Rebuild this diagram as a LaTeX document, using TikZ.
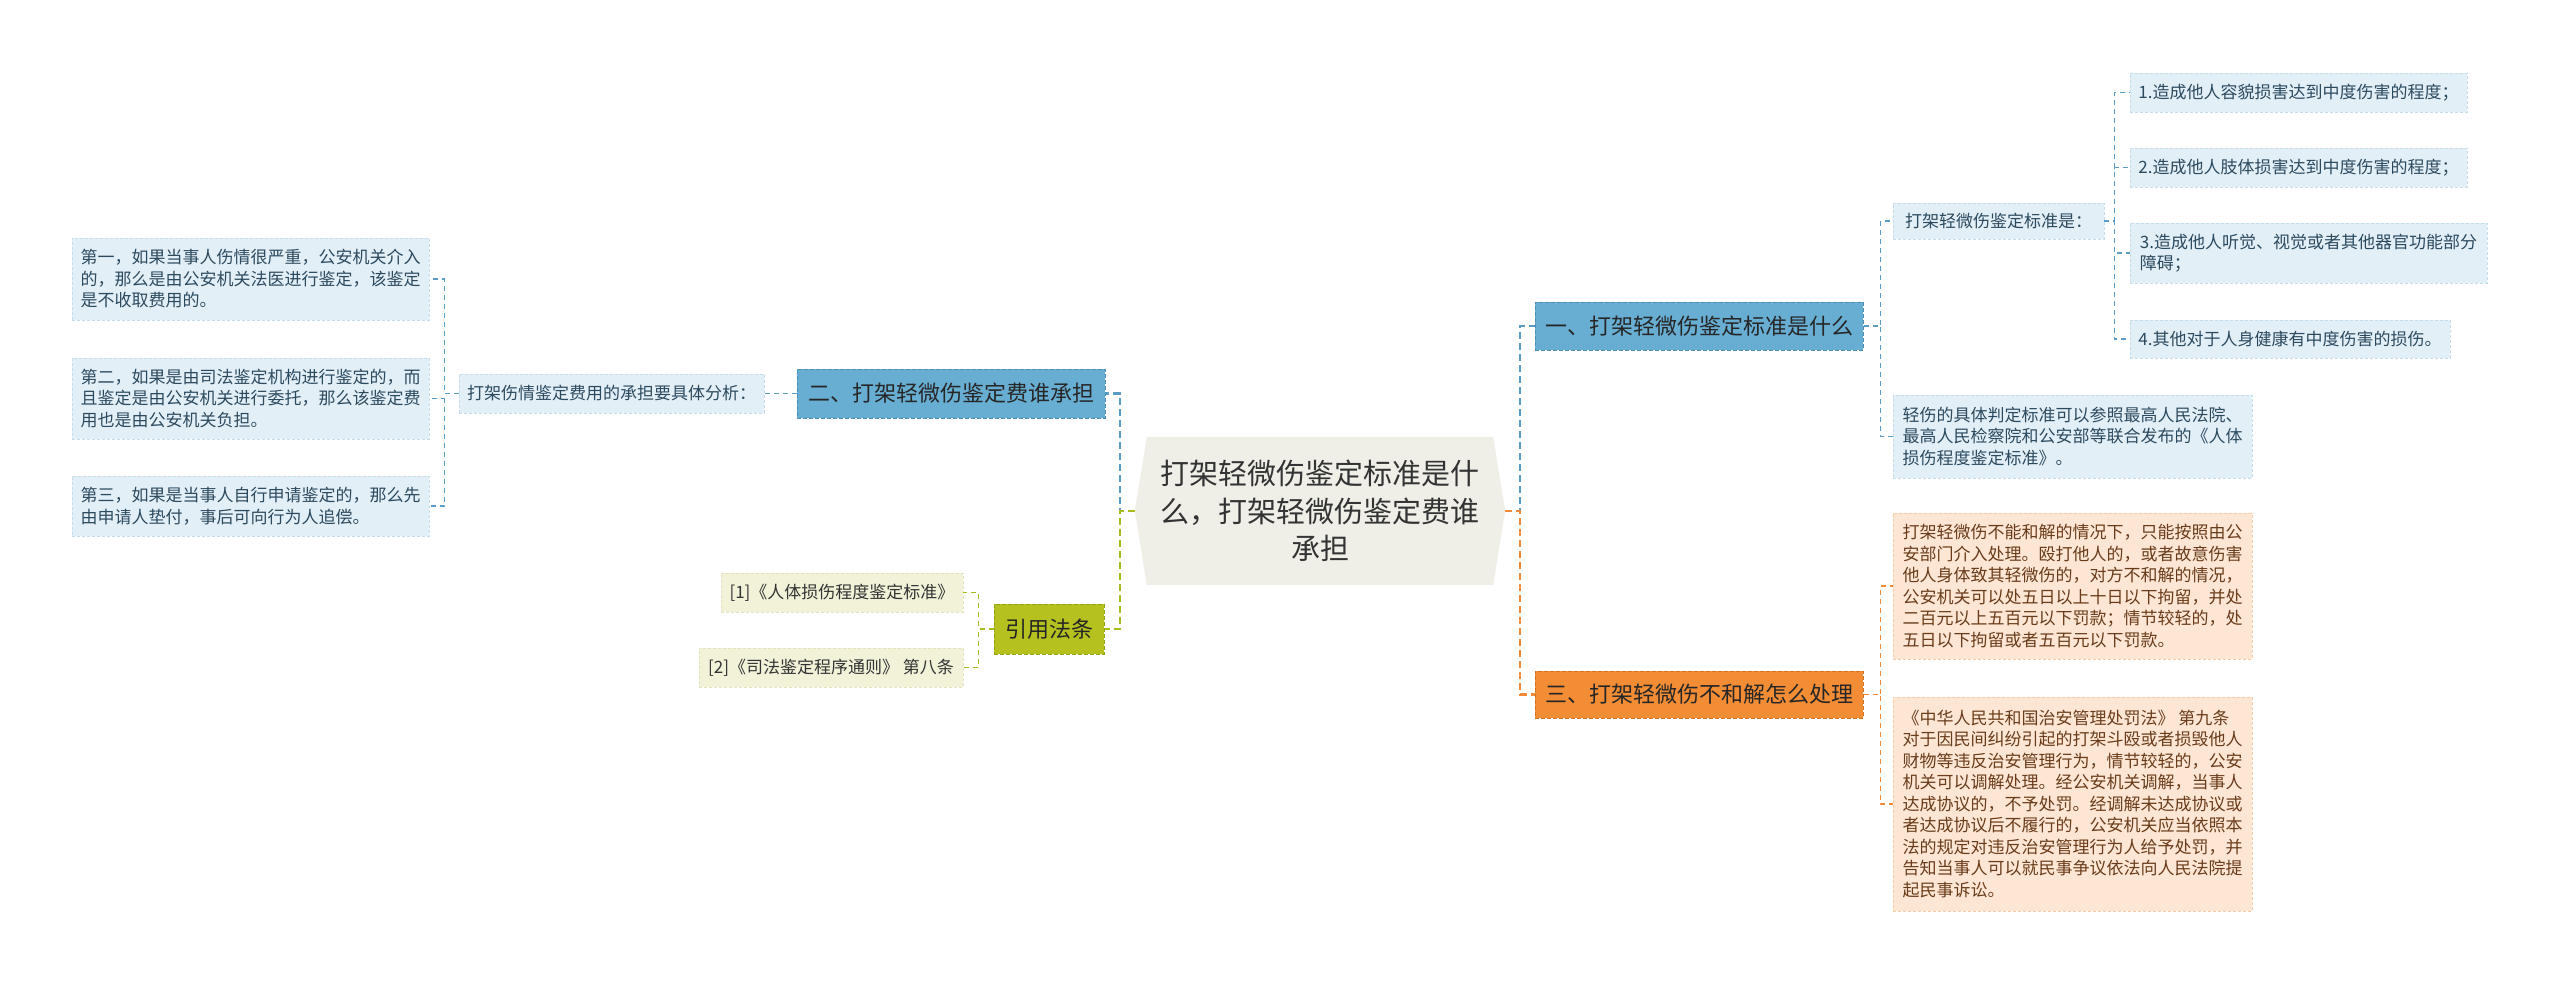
\documentclass[tikz,border=0pt]{standalone}
\usepackage{fontspec}
\setmainfont{Noto Sans CJK SC}
\usetikzlibrary{backgrounds,calc}
\definecolor{cfill}{HTML}{EFEFE7}
\definecolor{ctext}{HTML}{333333}
\definecolor{blueC}{HTML}{5A9CC5}
\definecolor{bfill}{HTML}{68AED3}
\definecolor{bline}{HTML}{4C8DB5}
\definecolor{bleaffill}{HTML}{E3EFF7}
\definecolor{bleafline}{HTML}{C5DCEC}
\definecolor{bleaftext}{HTML}{2C4A5E}
\definecolor{orangeC}{HTML}{EE8A3A}
\definecolor{ofill}{HTML}{F28C35}
\definecolor{oline}{HTML}{D2711E}
\definecolor{oleaffill}{HTML}{FDE6D4}
\definecolor{oleafline}{HTML}{F5CBA8}
\definecolor{oleaftext}{HTML}{6A3C1B}
\definecolor{greenC}{HTML}{A9BA1E}
\definecolor{gfill}{HTML}{B4C11E}
\definecolor{gline}{HTML}{95A212}
\definecolor{gleaffill}{HTML}{F2F2D9}
\definecolor{gleafline}{HTML}{E3E3BF}
\begin{document}
\begin{tikzpicture}[x=1pt,y=-1pt,
  leafbox/.style={rectangle, inner sep=0pt, align=left, line width=0.8pt,
    dash pattern=on 3pt off 2pt, font=\fontsize{17}{21.5}\selectfont},
  bleaf/.style={leafbox, fill=bleaffill, draw=bleafline, text=bleaftext},
  oleaf/.style={leafbox, fill=oleaffill, draw=oleafline, text=oleaftext},
  gleaf/.style={leafbox, fill=gleaffill, draw=gleafline, text=ctext},
  branchbox/.style={rectangle, inner sep=0pt, line width=1pt,
    dash pattern=on 4pt off 2pt, font=\fontsize{22}{26}\selectfont, text=black!85},
  bbranch/.style={branchbox, fill=bfill, draw=bline},
  obranch/.style={branchbox, fill=ofill, draw=oline},
  gbranch/.style={branchbox, fill=gfill, draw=gline},
  conn/.style={line width=1.3pt, dash pattern=on 5pt off 4pt},
  mainconn/.style={line width=2.2pt, dash pattern=on 7pt off 4pt},
  cnode/.style={rectangle, inner sep=0pt, align=center, text=ctext,
    font=\fontsize{29}{37.5}\selectfont}
]
\useasboundingbox (0,0) rectangle (2560,985);

% central
\node[cnode, minimum width=346pt, minimum height=148pt] (c) at (1320,511)
  {打架轻微伤鉴定标准是什\\么，打架轻微伤鉴定费谁\\承担};
\begin{scope}[on background layer]
\fill[cfill] (c.north west) -- (c.north east) -- ([xshift=12pt]c.east) -- (c.south east)
  -- (c.south west) -- ([xshift=-12pt]c.west) -- cycle;
\end{scope}
\coordinate (cl) at ([xshift=-12pt]c.west);
\coordinate (cr) at ([xshift=12pt]c.east);
\coordinate (jl) at (1120,511);
\coordinate (jr) at (1520,511);

% branches
\node[bbranch, minimum width=328pt, minimum height=48pt] (b1) at (1699,326) {一、打架轻微伤鉴定标准是什么};
\node[obranch, minimum width=328pt, minimum height=47pt] (b3) at (1699,694.5) {三、打架轻微伤不和解怎么处理};
\node[bbranch, minimum width=308pt, minimum height=49pt] (b2) at (951,393.5) {二、打架轻微伤鉴定费谁承担};
\node[gbranch, minimum width=110pt, minimum height=50pt] (g0) at (1049,629) {引用法条};

% right blue
\node[bleaf, minimum width=211pt, minimum height=36pt] (s1) at (1998.5,221) {打架轻微伤鉴定标准是：};
\node[bleaf, minimum width=359pt, minimum height=83pt] (s2) at (2072.5,436.5)
  {轻伤的具体判定标准可以参照最高人民法院、\\最高人民检察院和公安部等联合发布的《人体\\损伤程度鉴定标准》。};
\node[bleaf, minimum width=337pt, minimum height=39pt] (n1) at (2298.5,92.5) {1.造成他人容貌损害达到中度伤害的程度；};
\node[bleaf, minimum width=337pt, minimum height=39pt] (n2) at (2298.5,167.5) {2.造成他人肢体损害达到中度伤害的程度；};
\node[bleaf, minimum width=357pt, minimum height=60pt] (n3) at (2308.5,253) {3.造成他人听觉、视觉或者其他器官功能部分\\障碍；};
\node[bleaf, minimum width=320pt, minimum height=38pt] (n4) at (2290,339) {4.其他对于人身健康有中度伤害的损伤。};

% right orange
\node[oleaf, minimum width=359pt, minimum height=146pt] (o1) at (2072.5,586)
  {打架轻微伤不能和解的情况下，只能按照由公\\安部门介入处理。殴打他人的，或者故意伤害\\他人身体致其轻微伤的，对方不和解的情况，\\公安机关可以处五日以上十日以下拘留，并处\\二百元以上五百元以下罚款；情节较轻的，处\\五日以下拘留或者五百元以下罚款。};
\node[oleaf, minimum width=359pt, minimum height=214pt] (o2) at (2072.5,804)
  {《中华人民共和国治安管理处罚法》 第九条\\对于因民间纠纷引起的打架斗殴或者损毁他人\\财物等违反治安管理行为，情节较轻的，公安\\机关可以调解处理。经公安机关调解，当事人\\达成协议的，不予处罚。经调解未达成协议或\\者达成协议后不履行的，公安机关应当依照本\\法的规定对违反治安管理行为人给予处罚，并\\告知当事人可以就民事争议依法向人民法院提\\起民事诉讼。};

% left blue
\node[bleaf, minimum width=305pt, minimum height=39pt] (a1) at (611.5,393.5) {打架伤情鉴定费用的承担要具体分析：};
\node[bleaf, minimum width=357pt, minimum height=82pt] (l1) at (250.5,279)
  {第一，如果当事人伤情很严重，公安机关介入\\的，那么是由公安机关法医进行鉴定，该鉴定\\是不收取费用的。};
\node[bleaf, minimum width=357pt, minimum height=81pt] (l2) at (250.5,398.5)
  {第二，如果是由司法鉴定机构进行鉴定的，而\\且鉴定是由公安机关进行委托，那么该鉴定费\\用也是由公安机关负担。};
\node[bleaf, minimum width=357pt, minimum height=60pt] (l3) at (250.5,506)
  {第三，如果是当事人自行申请鉴定的，那么先\\由申请人垫付，事后可向行为人追偿。};

% green leaves
\node[gleaf, minimum width=242pt, minimum height=39pt] (g1) at (842,592.5) {[1]《人体损伤程度鉴定标准》};
\node[gleaf, minimum width=264pt, minimum height=39pt] (g2) at (831,667.5) {[2]《司法鉴定程序通则》 第八条};

% connectors
\draw[mainconn, blueC] (cl) -- (jl) |- (b2.east);
\draw[mainconn, greenC] (cl) -- (jl) |- (g0.east);
\draw[mainconn, blueC] (cr) -- (jr) |- (b1.west);
\draw[mainconn, orangeC] (cr) -- (jr) |- (b3.west);

\draw[conn, blueC] (b1.east) -- ++(17,0) |- (s1.west);
\draw[conn, blueC] (b1.east) -- ++(17,0) |- (s2.west);
\foreach \n in {n1,n2,n3,n4}
  \draw[conn, blueC] (s1.east) -- ++(10,0) |- (\n.west);

\draw[conn, orangeC] (b3.east) -- ++(17,0) |- (o1.west);
\draw[conn, orangeC] (b3.east) -- ++(17,0) |- (o2.west);

\draw[conn, blueC] (b2.west) -- (a1.east);
\foreach \n in {l1,l2,l3}
  \draw[conn, blueC] (a1.west) -- ++(-14,0) |- (\n.east);

\draw[conn, greenC] (g0.west) -- ++(-15,0) |- (g1.east);
\draw[conn, greenC] (g0.west) -- ++(-15,0) |- (g2.east);
\end{tikzpicture}
\end{document}
